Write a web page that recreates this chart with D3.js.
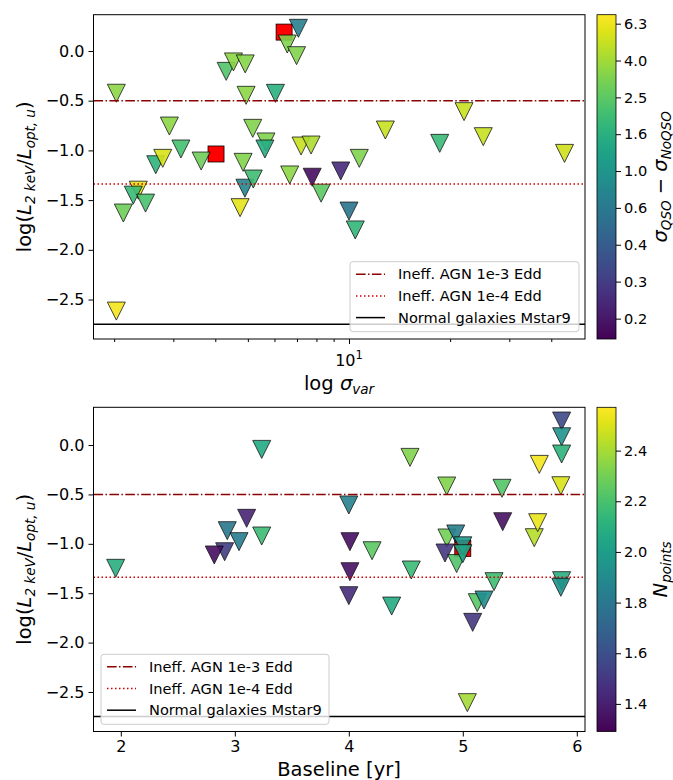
<!DOCTYPE html>
<html><head><meta charset="utf-8">
<script src="https://cdn.jsdelivr.net/npm/d3@7"></script>
<style>body{margin:0;background:#fff}svg{display:block;font-family:"DejaVu Sans",sans-serif}</style>
</head><body>
<svg id="c" width="673" height="780"></svg>
<script>
// ---------- data: top panel (sigma_var) ----------
const topX = [2.03,2.03,2.92,3.16,2.66,2.79,3.63,2.36,2.28,2.48,2.13,4.31,4.53,4.91,4.94,6.04,5.17,5.66,5.62,4.84,4.90,5.19,4.74,7.07,6.55,6.98,7.2,7.71,6.66,7.77,8.26,9.45,10.0,10.44,10.73,12.83,18.62,22.0,25.1,43.8];
const topY = [-0.425,-2.616,-0.755,-0.986,-1.144,-1.08,-1.107,-1.40,-1.45,-1.53,-1.63,-0.205,-0.11,-0.13,-0.446,-0.426,-0.778,-0.915,-0.986,-1.12,-1.38,-1.288,-1.576,0.228,0.07,-0.047,-0.956,-0.946,-1.247,-1.27,-1.43,-1.207,-1.61,-1.80,-1.08,-0.795,-0.929,-0.61,-0.862,-1.03];
const topC = [3.5,6.6,3.5,2.1,1.7,5.5,2.9,6.0,1.9,2.2,2.9,2.3,3.5,3.4,3.5,1.6,3.3,3.3,1.5,3.3,0.8,2.0,6.0,0.7,3.2,3.3,5.0,4.3,3.5,0.14,2.6,0.2,0.58,1.8,3.2,5.0,1.9,5.0,5.0,5.3];
const topRedX = [4.02,6.41];
const topRedY = [-1.036,0.19];

// ---------- data: bottom panel (baseline) ----------
const botX = [1.955,3.236,3.104,2.934,3.037,2.911,2.82,3.236,4.0,4.01,4.01,4.0,4.204,4.376,4.548,4.537,4.859,5.344,5.35,5.671,5.627,5.657,5.867,5.867,5.867,5.86,5.867,5.86,5.274,5.127,5.186,5.087,5.04,4.861,4.938,4.844,4.946,5.0,5.0];
const botY = [-1.248,-0.044,-0.742,-0.867,-0.978,-1.08,-1.113,-0.921,-0.607,-0.978,-1.282,-1.525,-1.07,-1.63,-1.265,-0.125,-0.415,-0.438,-0.776,-0.196,-0.938,-0.786,0.243,0.084,-0.091,-0.412,-1.373,-1.44,-1.383,-1.596,-1.569,-1.795,-2.608,-0.941,-0.90,-1.093,-1.20,-1.02,-1.10];
const botC = [2.1,2.07,1.42,1.8,1.83,1.53,1.34,2.17,1.85,1.34,1.35,1.45,2.25,2.07,2.16,2.33,2.33,2.23,1.35,2.55,2.43,2.53,1.58,1.95,2.12,2.5,2.1,1.95,2.18,2.24,1.92,1.5,2.4,2.3,1.84,1.5,2.22,1.97,2.05];
const botRedX = [5.0];
const botRedY = [-1.046];

// ---------- reference lines / ticks ----------
const hLines = [-0.5, -1.338, -2.748];
const legendLabels = ["Ineff. AGN 1e-3 Edd","Ineff. AGN 1e-4 Edd","Normal galaxies Mstar9"];
const yTicks = [0.0,-0.5,-1.0,-1.5,-2.0,-2.5];
const topMinorTicks = [2,3,4,5,6,7,8,9,20,30,40];
const topMajorTicks = [10];
const botXTicks = [2,3,4,5,6];
const cbTopTicks = [0.158,0.251,0.398,0.631,1.0,1.585,2.512,3.981,6.31];
const cbTopLabels = ["0.2","0.3","0.4","0.6","1.0","1.6","2.5","4.0","6.3"];
const cbBotTicks = [1.4,1.6,1.8,2.0,2.2,2.4];

const svg = d3.select("#c");
svg.append("rect").attr("width",673).attr("height",780).attr("fill","#fff");
const L = 93.5, R = 585;
const fmtMinus = v => d3.format(".1f")(v).replace("-", "\u2212");

function tri(s){ return `M${-s},${-s}L${s},${-s}L0,${s}Z`; }

function panel(cfg){
  const g = svg.append("g");
  const x = cfg.x, y = cfg.y;
  const clipId = "clip"+cfg.id;
  svg.append("clipPath").attr("id",clipId).append("rect")
    .attr("x",L).attr("y",cfg.top).attr("width",R-L).attr("height",cfg.bottom-cfg.top);
  const plot = g.append("g").attr("clip-path",`url(#${clipId})`);
  // red squares
  plot.selectAll("rect.red").data(cfg.redX.map((v,i)=>[v,cfg.redY[i]])).join("rect")
    .attr("x",d=>x(d[0])-8).attr("y",d=>y(d[1])-8).attr("width",16).attr("height",16)
    .attr("fill","#ff0000").attr("stroke","#000").attr("stroke-width",0.8);
  // triangles
  plot.selectAll("path.m").data(cfg.px.map((v,i)=>[v,cfg.py[i],cfg.pc[i]])).join("path")
    .attr("d",tri(9)).attr("transform",d=>`translate(${x(d[0])},${y(d[1])})`)
    .attr("fill",d=>cfg.color(d[2])).attr("stroke","#000").attr("stroke-width",0.8)
    .attr("opacity",0.9);
  // lines
  const styles = [
    {c:"#8b0000", dash:"9.6,2.4,1.5,2.4"},
    {c:"#cc0000", dash:"1.5,2.5"},
    {c:"#000", dash:null}
  ];
  hLines.forEach((h,i)=>{
    plot.append("line").attr("x1",L).attr("x2",R).attr("y1",y(h)).attr("y2",y(h))
      .attr("stroke",styles[i].c).attr("stroke-width",1.5)
      .attr("stroke-dasharray",styles[i].dash);
  });
  // frame
  g.append("rect").attr("x",L).attr("y",cfg.top).attr("width",R-L).attr("height",cfg.bottom-cfg.top)
    .attr("fill","none").attr("stroke","#000").attr("stroke-width",1);
  // y axis
  const ya = g.append("g").attr("transform",`translate(${L},0)`)
    .call(d3.axisLeft(y).tickValues(yTicks).tickSize(5).tickPadding(4).tickFormat(fmtMinus));
  ya.select(".domain").remove();
  ya.selectAll("text").attr("font-size",16).attr("font-family","DejaVu Sans").attr("fill","#000");
  ya.selectAll("line").attr("stroke","#000");
  // y label
  const yl = g.append("text").attr("transform",`translate(31,${(cfg.top+cfg.bottom)/2}) rotate(-90)`)
    .attr("text-anchor","middle").attr("font-size",19.5).attr("fill","#000");
  yl.append("tspan").text("log(");
  yl.append("tspan").attr("font-style","italic").text("L");
  yl.append("tspan").attr("font-style","italic").attr("font-size",13.5).attr("dy",4).text("2 keV");
  yl.append("tspan").attr("dy",-4).text("/");
  yl.append("tspan").attr("font-style","italic").text("L");
  yl.append("tspan").attr("font-style","italic").attr("font-size",13.5).attr("dy",4).text("opt, u");
  yl.append("tspan").attr("dy",-4).text(")");
  // legend
  const lg = g.append("g").attr("transform",`translate(${cfg.lgX},${cfg.lgY})`);
  lg.append("rect").attr("width",cfg.lgW).attr("height",70).attr("rx",3)
    .attr("fill","#fff").attr("fill-opacity",0.8).attr("stroke","#cccccc").attr("stroke-width",1);
  legendLabels.forEach((t,i)=>{
    const yy = 12.5 + i*21.7;
    lg.append("line").attr("x1",6).attr("x2",35).attr("y1",yy).attr("y2",yy)
      .attr("stroke",styles[i].c).attr("stroke-width",1.5).attr("stroke-dasharray",styles[i].dash);
    lg.append("text").attr("x",48).attr("y",yy+5.2).attr("font-size",14.6).attr("fill","#000").text(t);
  });
  // colorbar
  const cbX = 597, cbW = 19;
  const grad = svg.append("defs").append("linearGradient").attr("id","g"+cfg.id)
    .attr("x1",0).attr("y1",1).attr("x2",0).attr("y2",0);
  d3.range(0,1.0001,0.05).forEach(t=>grad.append("stop").attr("offset",t).attr("stop-color",d3.interpolateViridis(t)));
  g.append("rect").attr("x",cbX).attr("y",cfg.top).attr("width",cbW).attr("height",cfg.bottom-cfg.top)
    .attr("fill",`url(#g${cfg.id})`).attr("stroke","#000").attr("stroke-width",0.8);
  const ca = g.append("g").attr("transform",`translate(${cbX+cbW},0)`)
    .call(d3.axisRight(cfg.cbScale).tickValues(cfg.cbTicks).tickSize(5).tickPadding(3).tickFormat(cfg.cbFmt));
  ca.select(".domain").remove();
  ca.selectAll("text").attr("font-size",14.6).attr("font-family","DejaVu Sans").attr("fill","#000");
  ca.selectAll("line").attr("stroke","#000");
  cfg.cbLabel(g.append("text").attr("transform",`translate(667,${(cfg.top+cfg.bottom)/2}) rotate(-90)`)
    .attr("text-anchor","middle").attr("font-size",19.5).attr("fill","#000"));
  return g;
}

// ---------- top panel ----------
const tTop = 14.7, tBot = 339;
const xTop = d3.scaleLog().domain([1.736, 50.4]).range([L, R]);
const yTop = d3.scaleLinear().domain([-2.897, 0.365]).range([tBot, tTop]);
const cTopDom = [0.1225, 7.06];
const colTop = d3.scaleSequentialLog(d3.interpolateViridis).domain(cTopDom);
const gT = panel({id:"t", x:xTop, y:yTop, top:tTop, bottom:tBot, px:topX, py:topY, pc:topC,
  redX:topRedX, redY:topRedY, color:colTop, lgX:350, lgY:261.7, lgW:229,
  cbScale:d3.scaleLog().domain(cTopDom).range([tBot,tTop]), cbTicks:cbTopTicks,
  cbFmt:(d,i)=>cbTopLabels[i],
  cbLabel:t=>{
    t.append("tspan").attr("font-style","italic").text("σ");
    t.append("tspan").attr("font-style","italic").attr("font-size",13.5).attr("dy",4).text("QSO");
    t.append("tspan").attr("dy",-4).text(" \u2212 ");
    t.append("tspan").attr("font-style","italic").text("σ");
    t.append("tspan").attr("font-style","italic").attr("font-size",13.5).attr("dy",4).text("NoQSO");
  }});
// top x axis
const xaMin = gT.append("g").attr("transform",`translate(0,${tBot})`)
  .call(d3.axisBottom(xTop).tickValues(topMinorTicks).tickSize(3).tickFormat(""));
xaMin.select(".domain").remove();
const xaMaj = gT.append("g").attr("transform",`translate(0,${tBot})`)
  .call(d3.axisBottom(xTop).tickValues(topMajorTicks).tickSize(5).tickFormat(""));
xaMaj.select(".domain").remove();
topMajorTicks.forEach(v=>{
  const t = gT.append("text").attr("x",xTop(v)).attr("y",366).attr("text-anchor","middle").attr("font-size",16);
  t.append("tspan").text("10");
  t.append("tspan").attr("font-size",11.5).attr("dy",-7).text(String(Math.round(Math.log10(v))));
});
const xl = gT.append("text").attr("x",339).attr("y",390).attr("text-anchor","middle").attr("font-size",19.5);
xl.append("tspan").text("log ");
xl.append("tspan").attr("font-style","italic").text("σ");
xl.append("tspan").attr("font-style","italic").attr("font-size",13.5).attr("dy",4).text("var");

// ---------- bottom panel ----------
const bTop = 407.3, bBot = 731.5;
const xBot = d3.scaleLinear().domain([1.7605, 6.072]).range([L, R]);
const yBot = d3.scaleLinear().domain([-2.90, 0.382]).range([bBot, bTop]);
const cBotDom = [1.291, 2.571];
const colBot = d3.scaleSequential(d3.interpolateViridis).domain(cBotDom);
const gB = panel({id:"b", x:xBot, y:yBot, top:bTop, bottom:bBot, px:botX, py:botY, pc:botC,
  redX:botRedX, redY:botRedY, color:colBot, lgX:101, lgY:654.3, lgW:228,
  cbScale:d3.scaleLinear().domain(cBotDom).range([bBot,bTop]), cbTicks:cbBotTicks,
  cbFmt:d3.format(".1f"),
  cbLabel:t=>{
    t.append("tspan").attr("font-style","italic").text("N");
    t.append("tspan").attr("font-style","italic").attr("font-size",13.5).attr("dy",4).text("points");
  }});
const xb = gB.append("g").attr("transform",`translate(0,${bBot})`)
  .call(d3.axisBottom(xBot).tickValues(botXTicks).tickSize(5).tickPadding(4).tickFormat(d3.format("d")));
xb.select(".domain").remove();
xb.selectAll("text").attr("font-size",16).attr("font-family","DejaVu Sans").attr("fill","#000");
gB.append("text").attr("x",339).attr("y",776).attr("text-anchor","middle").attr("font-size",19.5).text("Baseline [yr]");
</script>
</body></html>
